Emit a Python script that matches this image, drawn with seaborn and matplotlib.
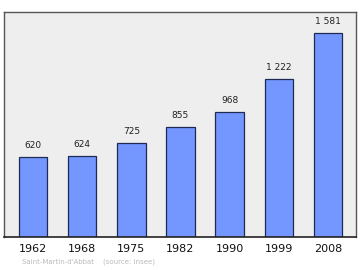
import matplotlib
matplotlib.use("Agg")
import matplotlib.pyplot as plt
import seaborn as sns
import pandas as pd

years = ["1962", "1968", "1975", "1982", "1990", "1999", "2008"]
population = [620, 624, 725, 855, 968, 1222, 1581]
value_labels = ["620", "624", "725", "855", "968", "1 222", "1 581"]
caption = "Saint-Martin-d'Abbat    (source: Insee)"

df = pd.DataFrame({"year": years, "pop": population})

sns.set_style("white")
plt.rcParams["font.family"] = ["DejaVu Sans"]

fig = plt.figure(figsize=(3.6, 2.7), dpi=100)
ax = fig.add_axes([4/360, 1 - 236.7/270, 352/360, (236.7 - 12)/270])
ax.set_facecolor("#eeeeee")

sns.barplot(data=df, x="year", y="pop", ax=ax, color="#7396ff",
            saturation=1, width=0.58, edgecolor="#1f2a55", linewidth=0.9)

for i, (v, lab) in enumerate(zip(population, value_labels)):
    ax.text(i, v + 55, lab, ha="center", va="bottom", fontsize=6.5, color="#222222")

ax.set_xlim(-0.59, 6.57)
ax.set_ylim(0, 1745)
ax.set_xlabel("")
ax.set_ylabel("")
ax.set_yticks([])
ax.tick_params(axis="x", length=0, labelsize=8, pad=5, colors="#111111")
for s in ["left", "top", "right"]:
    ax.spines[s].set_color("#555555")
    ax.spines[s].set_linewidth(1.0)
ax.spines["bottom"].set_color("#222222")
ax.spines["bottom"].set_linewidth(1.2)

fig.text(22/360, 1 - 262/270, caption, fontsize=5, color="#bbbbbb", ha="left", va="center")

fig.savefig("out.png", dpi=100)
